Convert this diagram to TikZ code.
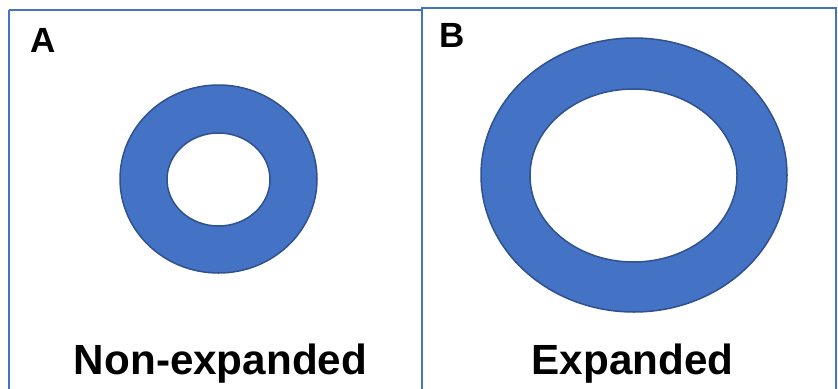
\documentclass[tikz,border=0pt]{standalone}
\usepackage{fontspec}
\setmainfont{Liberation Sans}
\definecolor{bord}{HTML}{4472C4}
\definecolor{ringfill}{HTML}{4472C4}
\definecolor{ringline}{HTML}{2F528F}
\begin{document}
\begin{tikzpicture}[x=1bp,y=-1bp,
  panel/.style={draw=bord,line width=2.8bp},
  ring/.style={fill=ringfill,draw=ringline,line width=1.5bp,even odd rule},
  letter/.style={font=\fontsize{35bp}{40bp}\selectfont\bfseries,anchor=base west,inner sep=0},
  caption/.style={font=\fontsize{42.2bp}{48bp}\selectfont\bfseries,anchor=base,inner sep=0}]
\useasboundingbox (0,0) rectangle (838,388);
\draw[panel] (9,10) -- (9,400) (9,10) -- (422,10);
\draw[panel] (422,400) -- (422,8) -- (836,8) -- (836,400);
\path[ring] (218.5,179) ellipse [x radius=98.5, y radius=94]
            (218.5,179.5) ellipse [x radius=51.5, y radius=46.5];
\path[ring] (634,175) ellipse [x radius=153, y radius=137]
            (633.5,175.5) ellipse [x radius=103.5, y radius=86.5];
\node[letter] (la) at (30,52) {A};
\node[letter] (lb) at (439,47) {B};
\node[caption] (c1) at (220.5,374) {Non-expanded};
\node[caption] (c2) at (632.5,374) {Expanded};
\end{tikzpicture}
\end{document}
